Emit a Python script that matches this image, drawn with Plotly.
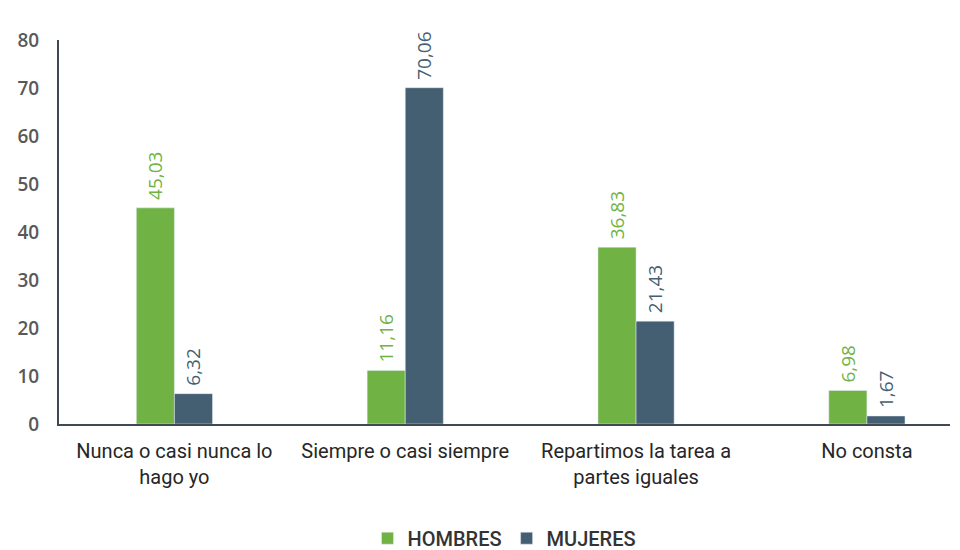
import plotly.graph_objects as go

categories = ["Nunca o casi nunca lo<br>hago yo", "Siempre o casi siempre",
              "Repartimos la tarea a<br>partes iguales", "No consta"]
hombres = [45.03, 11.16, 36.83, 6.98]
mujeres = [6.32, 70.06, 21.43, 1.67]
tick_vals = [0, 10, 20, 30, 40, 50, 60, 70, 80]

GREEN = "#70b244"
BLUE = "#455f72"
FONT = "Liberation Sans Narrow, Roboto, sans-serif"


def fmt(v):
    # leading nbsp leaves a little gap above the bar like the original
    return "\u00a0" + f"{v:.2f}".replace(".", ",")


fig = go.Figure()
fig.add_trace(go.Bar(
    x=categories, y=hombres, name="HOMBRES", marker_color=GREEN,
    text=[fmt(v) for v in hombres], textposition="outside", textangle=-90,
    constraintext="none",
    textfont=dict(color=GREEN, size=19, family="Open Sans"), cliponaxis=False,
))
fig.add_trace(go.Bar(
    x=categories, y=mujeres, name="MUJERES", marker_color=BLUE,
    text=[fmt(v) for v in mujeres], textposition="outside", textangle=-90,
    constraintext="none",
    textfont=dict(color=BLUE, size=19, family="Open Sans"), cliponaxis=False,
))

fig.update_layout(
    width=960, height=550,
    margin=dict(l=51, r=18, t=32, b=134),
    plot_bgcolor="white", paper_bgcolor="white",
    barmode="group", bargap=0.67, bargroupgap=0,
    font=dict(family=FONT, color="#404040"),
    showlegend=True,
    legend=dict(orientation="h", x=0.5, xanchor="center",
                yref="container", y=0.036, yanchor="middle",
                font=dict(size=20, color="#333333", family=FONT, weight=500),
                itemwidth=30, traceorder="normal"),
    xaxis=dict(range=[-0.5, 3.36], showline=True, linecolor="#3f4a55", linewidth=2,
               tickfont=dict(size=20, color="#262626", family=FONT), ticks="",
               ticklabelstandoff=8, automargin=False),
    yaxis=dict(range=[0, 80], tickvals=tick_vals, showgrid=False, showline=True,
               linecolor="#3f4a55", linewidth=2, zeroline=False,
               tickfont=dict(size=19, color="#595959", family="Open Sans", weight=600),
               ticks="", ticklabelstandoff=14, automargin=False),
)

fig.write_html("out.html")
